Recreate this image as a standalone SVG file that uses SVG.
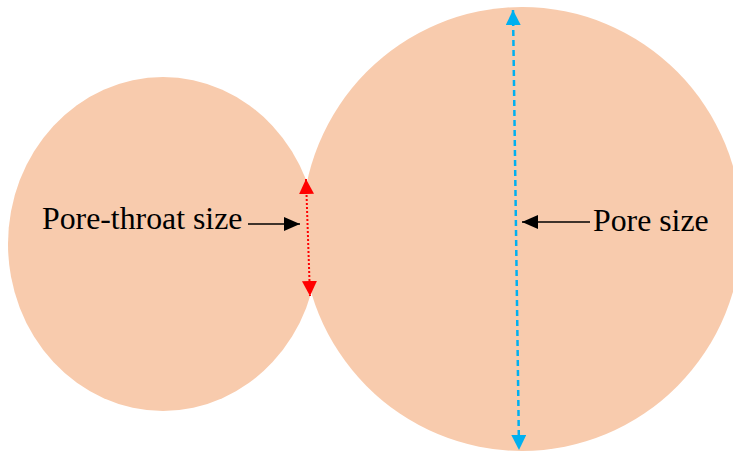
<svg xmlns="http://www.w3.org/2000/svg" width="733" height="452" viewBox="0 0 733 452">
<style>
.pore{fill:#F8CBAD;stroke:none}
.lbl{font-family:"Liberation Serif","Times New Roman",serif;font-size:31.8px;fill:#000}
.ptr{stroke:#000;stroke-width:1.5;fill:none}
</style>
<defs>
<marker id="blk" viewBox="0 0 16 14" refX="16" refY="7" markerWidth="16" markerHeight="14" markerUnits="userSpaceOnUse" orient="auto"><path d="M0,0L16,7L0,14z" fill="#000"/></marker>
<marker id="red" viewBox="0 0 15 15" refX="15" refY="7.5" markerWidth="15" markerHeight="15" markerUnits="userSpaceOnUse" orient="auto-start-reverse"><path d="M0,0L15,7.5L0,15z" fill="#FF0000"/></marker>
<marker id="blue" viewBox="0 0 15 15" refX="15" refY="7.5" markerWidth="15" markerHeight="15" markerUnits="userSpaceOnUse" orient="auto-start-reverse"><path d="M0,0L15,7.5L0,15z" fill="#00B0F0"/></marker>
</defs>
<rect width="733" height="452" fill="#fff"/>
<g id="pore-small"><ellipse class="pore" cx="163" cy="244" rx="155" ry="167"/></g>
<g id="pore-large"><ellipse class="pore" cx="522" cy="229" rx="220" ry="222"/></g>
<g id="connectors">
<line x1="306" y1="179" x2="310" y2="296" stroke="#FF0000" stroke-width="2" stroke-dasharray="2,2" marker-start="url(#red)" marker-end="url(#red)"/>
<line x1="513" y1="10" x2="519" y2="450" stroke="#00B0F0" stroke-width="2.5" stroke-dasharray="6,4" marker-start="url(#blue)" marker-end="url(#blue)"/>
<line class="ptr" x1="248" y1="224" x2="300" y2="224" marker-end="url(#blk)"/>
<line class="ptr" x1="590" y1="222" x2="522" y2="222" marker-end="url(#blk)"/>
</g>
<g id="label-throat"><text class="lbl" x="42" y="229">Pore-throat size</text></g>
<g id="label-pore"><text class="lbl" x="593" y="231">Pore size</text></g>
</svg>
